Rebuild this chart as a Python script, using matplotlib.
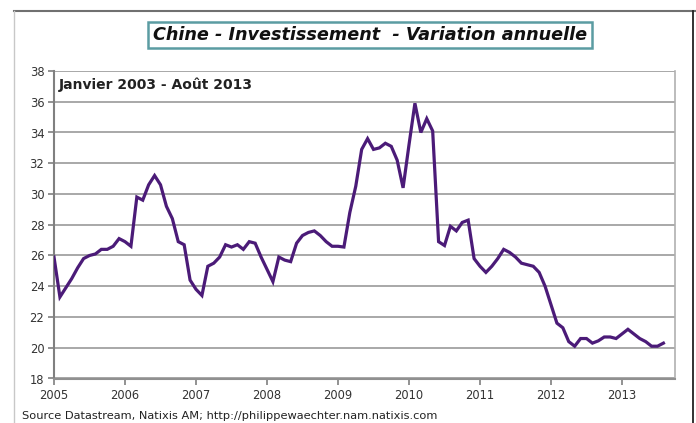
import matplotlib
matplotlib.use("Agg")
import matplotlib.pyplot as plt
from matplotlib.patches import Rectangle
from matplotlib.lines import Line2D
import numpy as np

# Monthly values, Jan 2005 .. Aug 2013
start_year = 2005
values = [
    25.9, 23.3, 23.9, 24.5, 25.2, 25.8, 26.0, 26.1, 26.4, 26.4, 26.6, 27.1,   # 2005
    26.9, 26.6, 29.8, 29.6, 30.6, 31.2, 30.6, 29.2, 28.4, 26.9, 26.7, 24.4,   # 2006
    23.8, 23.4, 25.3, 25.5, 25.9, 26.7, 26.55, 26.7, 26.4, 26.9, 26.8, 25.9,  # 2007
    25.1, 24.3, 25.9, 25.7, 25.6, 26.8, 27.3, 27.5, 27.6, 27.3, 26.9, 26.6,   # 2008
    26.6, 26.55, 28.8, 30.5, 32.9, 33.6, 32.9, 33.0, 33.3, 33.1, 32.2, 30.4,  # 2009
    33.2, 35.9, 34.0, 34.9, 34.1, 26.9, 26.65, 27.9, 27.6, 28.15, 28.3, 25.8, # 2010
    25.3, 24.9, 25.3, 25.8, 26.4, 26.2, 25.9, 25.5, 25.4, 25.3, 24.9, 24.0,   # 2011
    22.8, 21.6, 21.3, 20.4, 20.1, 20.6, 20.6, 20.3, 20.45, 20.7, 20.7, 20.6,  # 2012
    20.9, 21.2, 20.9, 20.6, 20.4, 20.1, 20.1, 20.3,                           # 2013
]
year_ticks = [2005, 2006, 2007, 2008, 2009, 2010, 2011, 2012, 2013]
y_ticks = [18, 20, 22, 24, 26, 28, 30, 32, 34, 36, 38]
title = "Chine - Investissement  - Variation annuelle"
subtitle = "Janvier 2003 - Août 2013"
source = "Source Datastream, Natixis AM; http://philippewaechter.nam.natixis.com"

x = start_year + np.arange(len(values)) / 12.0

W, H = 696, 423
fig = plt.figure(figsize=(W / 100, H / 100), dpi=100)
fig.patch.set_facecolor("white")

ax = fig.add_axes([54 / W, 1 - 378.5 / H, (675 - 54) / W, (378.5 - 71) / H])
ax.plot(x, values, color="#4b1b78", linewidth=2.3, solid_joinstyle="miter", zorder=3)

ax.set_xlim(2005, 2005 + (675 - 54) / 71.0)
ax.set_ylim(18, 38)
ax.set_xticks(year_ticks)
ax.set_xticklabels([str(t) for t in year_ticks])
ax.set_yticks(y_ticks)
ax.set_yticklabels([str(t) for t in y_ticks])
ax.tick_params(axis="both", labelsize=8.3, colors="#7f7f7f", labelcolor="#333333",
               length=4, width=1.2, direction="out")
ax.tick_params(axis="x", pad=3.5)
ax.tick_params(axis="y", pad=3)

ax.yaxis.grid(True, color="#a8a8a8", linewidth=1.4)
ax.set_axisbelow(True)
ax.spines["top"].set_visible(False)
ax.spines["left"].set_color("#808080")
ax.spines["left"].set_linewidth(1.5)
ax.spines["bottom"].set_color("#909090")
ax.spines["bottom"].set_linewidth(1.5)
ax.spines["right"].set_color("#b0b0b0")
ax.spines["right"].set_linewidth(1.2)

ax.text(0.008, 0.955, subtitle, transform=ax.transAxes, fontsize=10,
        fontweight="bold", color="#222222", ha="left", va="center")

# Title box
fig.patches.append(Rectangle((148 / W, 1 - 48 / H), (592 - 148) / W, (48 - 22) / H,
                             transform=fig.transFigure, facecolor="white",
                             edgecolor="#5b9ca2", linewidth=1.8))
fig.text(370 / W, 1 - 35.5 / H, title, fontsize=12.7, fontweight="bold", style="italic",
         color="#111111", ha="center", va="center")

# Source
fig.text(22 / W, 1 - 416 / H, source, fontsize=8.2, color="#222222", ha="left", va="center")

# Outer frame lines
fig.lines.append(Line2D([14 / W, 1.0], [1 - 11 / H, 1 - 11 / H], transform=fig.transFigure,
                        color="#707070", linewidth=1.5))
fig.lines.append(Line2D([14 / W, 14 / W], [0, 1 - 11 / H], transform=fig.transFigure,
                        color="#c8c8c8", linewidth=1.0))
fig.lines.append(Line2D([692.5 / W, 692.5 / W], [0, 1 - 11 / H], transform=fig.transFigure,
                        color="#222222", linewidth=1.3))

fig.savefig("out.png", dpi=100)
